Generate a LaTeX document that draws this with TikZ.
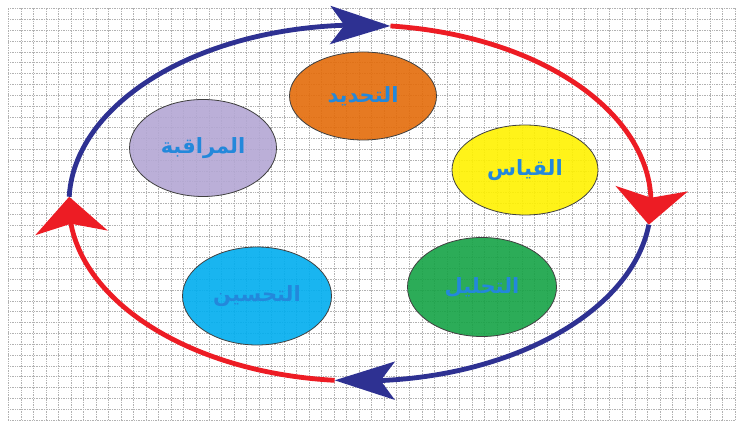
\documentclass[tikz,border=0pt]{standalone}
\usepackage{fontspec}
\newfontfamily\arabicfont[Script=Arabic]{DejaVu Sans}
\TeXXeTstate=1
\definecolor{loopblue}{RGB}{46,49,146}
\definecolor{loopred}{RGB}{237,28,36}
\definecolor{wordblue}{RGB}{35,136,219}
\definecolor{phaseorange}{RGB}{228,108,10}
\definecolor{phasepurple}{RGB}{180,167,212}
\definecolor{phaseyellow}{RGB}{255,242,0}
\definecolor{phasegreen}{RGB}{22,163,70}
\definecolor{phasecyan}{RGB}{0,174,239}
\usetikzlibrary{arrows.meta,bending,shapes.geometric}

\begin{document}
\begin{tikzpicture}[x=1pt, y=1pt,
    phase/.style={ellipse, draw=black!75, line width=0.8pt, inner sep=0pt, fill opacity=0.9, text opacity=1,
      text=wordblue, font=\arabicfont\bfseries\fontsize{21}{25}\selectfont},
    gridline/.style={gray!60, line width=0.5pt, dash pattern=on 1pt off 0.7pt},
    loopline/.style={line width=4.8pt},
    tipside/.style={-{Stealth[flex, length=36pt, width=72pt, inset=9pt]}},
    tipend/.style={-{Stealth[flex, length=60pt, width=38pt, inset=14pt]}}]
          \useasboundingbox (0,0) rectangle (744,423);
          \fill[white] (0,0) rectangle (744,423);
          \draw[gridline, shift={(8.3,3)}] (0,0) grid[xstep=12.53pt, ystep=10.83pt] (727,412);
          \coordinate (loopcenter) at (360,220);
          \coordinate (north) at ([shift={(84:291 and 178)}]loopcenter);
          \coordinate (east) at ([shift={(-7:291 and 178)}]loopcenter);
          \coordinate (south) at ([shift={(-95:291 and 178)}]loopcenter);
          \coordinate (west) at ([shift={(178:291 and 178)}]loopcenter);
          \draw[loopline, loopblue, tipend] (west) arc[start angle=178, end angle=84, x radius=291, y radius=178];
          \draw[loopline, loopred, tipside] (north) arc[start angle=84, end angle=-7, x radius=291, y radius=178];
          \draw[loopline, loopblue, tipend] (east) arc[start angle=-7, end angle=-95, x radius=291, y radius=178];
          \draw[loopline, loopred, tipside] (south) arc[start angle=-95, end angle=-182, x radius=291, y radius=178];
          \node[phase, fill=phaseorange, minimum width=147pt, minimum height=88pt] (define) at (363,327) {\beginR التحديد\endR};
          \node[phase, fill=phaseyellow, minimum width=146pt, minimum height=90pt] (measure) at (525,253) {\beginR القياس\endR};
          \node[phase, fill=phasegreen, minimum width=149pt, minimum height=99pt] (analyze) at (482,136) {\beginR التحليل\endR};
          \node[phase, fill=phasecyan, minimum width=149pt, minimum height=98pt] (improve) at (257,127) {\beginR التحسين\endR};
          \node[phase, fill=phasepurple, minimum width=147pt, minimum height=97pt] (control) at (203,275) {\beginR المراقبة\endR};
        \end{tikzpicture}
\end{document}
